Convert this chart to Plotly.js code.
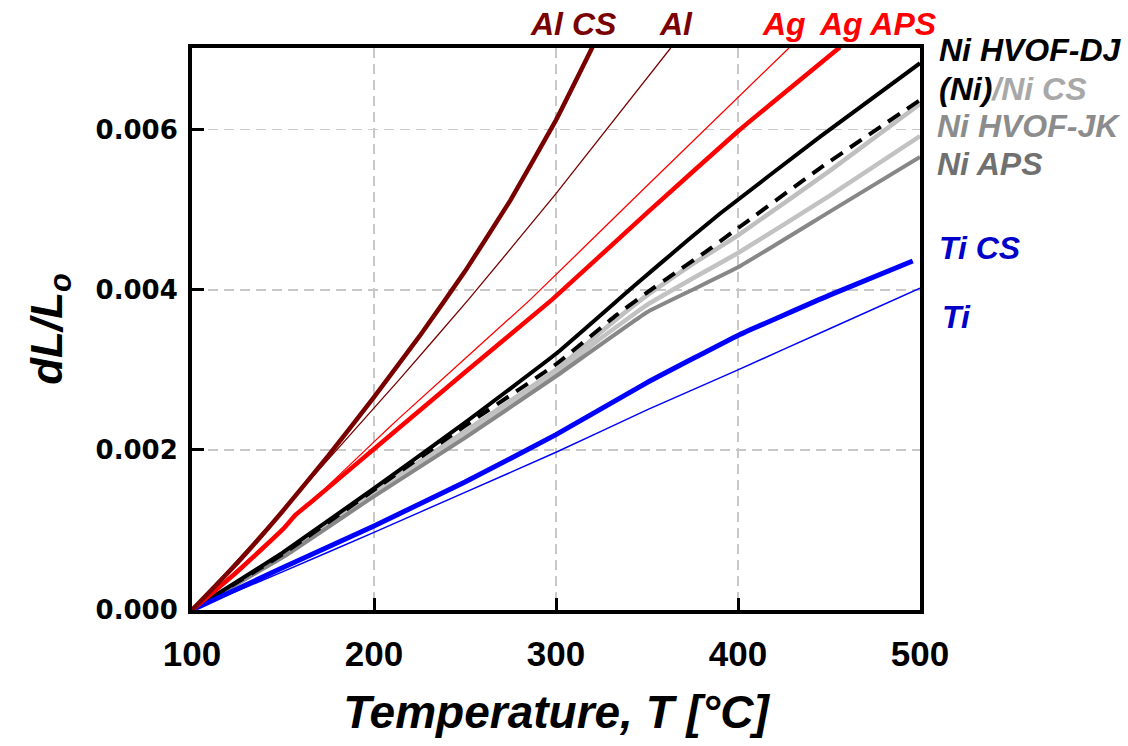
<!DOCTYPE html>
<html>
<head>
<meta charset="utf-8">
<script src="https://cdn.plot.ly/plotly-3.0.1.min.js"></script>
<style>html,body{margin:0;padding:0;background:#fff;}#chart{width:1128px;height:746px;}</style>
</head>
<body>
<div id="chart"></div>
<script>
// Temperatures [°C] and dL/Lo values
var alCsT = [100, 125, 150, 175, 200, 225, 250, 275, 300, 320];
var alCsY = [0, 0.00059, 0.00124, 0.00193, 0.00266, 0.00342, 0.00423, 0.00512, 0.00612, 0.00703];

var alT = [100, 150, 214, 252, 300, 363];
var alY = [0, 0.00125, 0.00288, 0.00388, 0.0052, 0.00702];

var agT = [100, 150, 200, 214, 286, 350, 428];
var agY = [0, 0.00102, 0.0021, 0.0024, 0.00388, 0.0053, 0.00702];

var agApsT = [100, 125, 150, 157, 165, 200, 214, 250, 298, 350, 400, 456];
var agApsY = [0, 0.00048, 0.00101, 0.00119, 0.00134, 0.00201, 0.00228, 0.00297, 0.00388, 0.00496, 0.00598, 0.00703];

var niDjT = [100, 150, 200, 250, 300, 343, 373, 390, 445, 500];
var niDjY = [0, 0.00072, 0.00152, 0.00234, 0.0032, 0.00405, 0.00463, 0.00495, 0.00591, 0.00683];

var niT = [100, 150, 200, 250, 300, 333, 349, 366, 382, 397, 447, 500];
var niY = [0, 0.0007, 0.0015, 0.0023, 0.00307, 0.00368, 0.00395, 0.00422, 0.00447, 0.00472, 0.00555, 0.00637];

var niCsT = [100, 150, 200, 250, 300, 325, 350, 375, 400, 450, 500];
var niCsY = [0, 0.00069, 0.00147, 0.00223, 0.003, 0.00348, 0.00393, 0.00432, 0.00468, 0.00548, 0.00632];

var niJkT = [100, 150, 200, 250, 300, 325, 350, 375, 400, 450, 500];
var niJkY = [0, 0.00068, 0.00145, 0.0022, 0.00296, 0.0034, 0.00381, 0.00414, 0.00446, 0.00517, 0.00592];

var niApsT = [100, 150, 200, 250, 300, 350, 375, 400, 450, 500];
var niApsY = [0, 0.00066, 0.00142, 0.00215, 0.00292, 0.00372, 0.004, 0.00428, 0.00497, 0.00566];

var tiCsT = [100, 150, 200, 250, 300, 350, 400, 450, 496];
var tiCsY = [0, 0.00053, 0.00105, 0.0016, 0.00219, 0.00284, 0.00343, 0.00393, 0.00436];

var tiT = [100, 150, 200, 250, 300, 350, 400, 450, 500];
var tiY = [0, 0.00048, 0.00097, 0.00147, 0.00197, 0.0025, 0.003, 0.00351, 0.00402];

var xTicks = [100, 200, 300, 400, 500];
var yTicks = [0, 0.002, 0.004, 0.006];

function tr(x, y, color, width, dash) {
  return {x: x, y: y, type: 'scatter', mode: 'lines', hoverinfo: 'skip',
    line: {color: color, width: width, dash: dash || 'solid', shape: 'spline', smoothing: 0.3}};
}

var data = [
  tr(niCsT, niCsY, '#bfbfbf', 4.5),
  tr(niJkT, niJkY, '#c2c2c2', 4.5),
  tr(niApsT, niApsY, '#878787', 4),
  tr(niT, niY, '#000000', 4, '14px,9px'),
  tr(niDjT, niDjY, '#000000', 4),
  tr(tiT, tiY, '#0000ff', 1.5),
  tr(tiCsT, tiCsY, '#0000ff', 5),
  tr(agT, agY, '#ff0000', 1.3),
  tr(agApsT, agApsY, '#ff0000', 4.5),
  tr(alT, alY, '#7a0000', 1.3),
  tr(alCsT, alCsY, '#7a0000', 4.5)
];

var F = 'Liberation Sans, Arial, sans-serif';
function px2x(p) { return (p - 192) / 728; }
function px2y(p) { return (610 - p) / 562; }
function ann(text, px, py, color, anchor) {
  return {text: text, xref: 'paper', yref: 'paper', x: px2x(px), y: px2y(py),
    xanchor: anchor || 'left', yanchor: 'middle', showarrow: false,
    font: {family: F, size: 32, color: color, weight: 'bold', style: 'italic'}};
}

var layout = {
  width: 1128, height: 746,
  margin: {l: 192, r: 208, t: 48, b: 136, pad: 0},
  paper_bgcolor: '#ffffff', plot_bgcolor: '#ffffff',
  showlegend: false,
  font: {family: F, color: '#000'},
  xaxis: {
    range: [100, 500], tickvals: xTicks, ticktext: xTicks.map(String),
    ticks: 'inside', ticklen: 12, tickwidth: 3, tickcolor: '#000',
    showline: true, linewidth: 4, linecolor: '#000', mirror: true,
    showgrid: true, gridcolor: '#c8c8c8', gridwidth: 1.5, griddash: '10px,6px',
    zeroline: false, ticklabelstandoff: 10,
    tickfont: {family: F, size: 35, weight: 'bold', color: '#000'},
    title: {text: 'Temperature, T [°C]', standoff: 25,
      font: {family: F, size: 46, weight: 'bold', style: 'italic', color: '#000'}}
  },
  yaxis: {
    range: [0, 0.00702], tickvals: yTicks, tickformat: '.3f',
    ticks: 'inside', ticklen: 12, tickwidth: 3, tickcolor: '#000',
    showline: true, linewidth: 4, linecolor: '#000', mirror: true,
    showgrid: true, gridcolor: '#c8c8c8', gridwidth: 1.5, griddash: '10px,6px',
    zeroline: false, ticklabelstandoff: 5,
    tickfont: {family: 'DejaVu Sans, sans-serif', size: 26, weight: 'bold', color: '#000'},
    title: {text: 'dL/L<sub>o</sub>', standoff: 20,
      font: {family: F, size: 44, weight: 'bold', style: 'italic', color: '#000'}}
  },
  annotations: [
    ann('Al CS', 573, 24, '#7a0000', 'center'),
    ann('Al', 676, 24, '#7a0000', 'center'),
    ann('Ag', 784, 24, '#ff0000', 'center'),
    ann('Ag APS', 878, 24, '#ff0000', 'center'),
    ann('Ni HVOF-DJ', 937, 50, '#000000'),
    ann('(Ni)<span style="color:#a8a8a8">/Ni CS</span>', 937, 89, '#000000'),
    ann('Ni HVOF-JK', 935, 126, '#8c8c8c'),
    ann('Ni APS', 935, 164, '#707070'),
    ann('Ti CS', 937, 248, '#0000c8'),
    ann('Ti', 940, 317, '#0000c8')
  ]
};

Plotly.newPlot('chart', data, layout, {staticPlot: true, displayModeBar: false});
</script>
</body>
</html>
